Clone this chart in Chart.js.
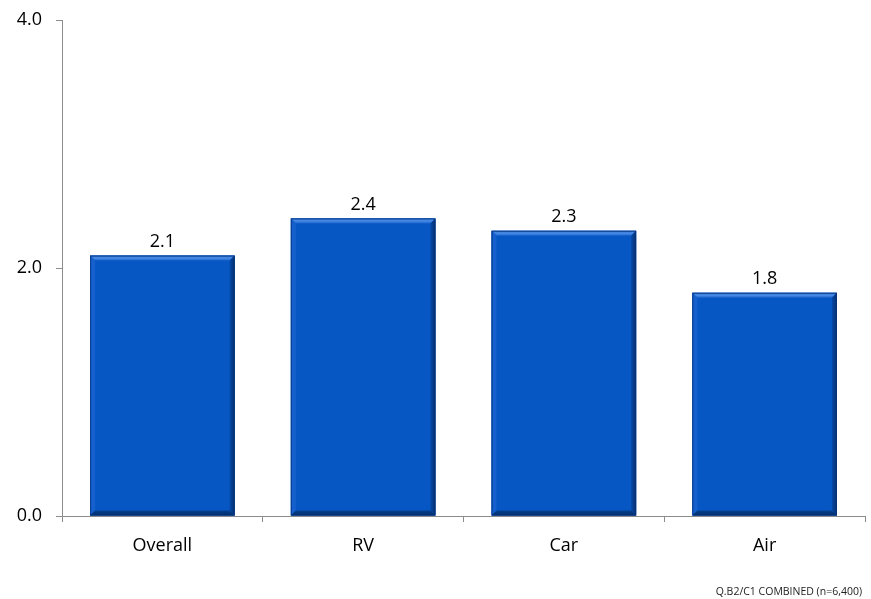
<!DOCTYPE html>
<html>
<head>
<meta charset="utf-8">
<script src="https://cdn.jsdelivr.net/npm/chart.js@4/dist/chart.umd.min.js"></script>
<style>
  html, body { margin: 0; padding: 0; background: #fff; }
  #wrap { position: relative; width: 871px; height: 599px; }
  #note { position: absolute; right: 9px; top: 585px; font-family: "Open Sans", sans-serif; font-size: 10.5px; color: #222; white-space: nowrap; line-height: 12px; }
</style>
</head>
<body>
<div id="wrap">
  <canvas id="c" width="871" height="599"></canvas>
  <div id="note">Q.B2/C1 COMBINED (n=6,400)</div>
</div>
<script>
const categories = ["Overall", "RV", "Car", "Air"];
const values = [2.1, 2.4, 2.3, 1.8];
const yTicks = [0, 2, 4];

const FONT = '"Open Sans", sans-serif';

const bevelPlugin = {
  id: 'bevel',
  afterDatasetsDraw(chart) {
    const ctx = chart.ctx;
    const meta = chart.getDatasetMeta(0);
    meta.data.forEach((bar, i) => {
      const p = bar.getProps(['x', 'y', 'base', 'width'], true);
      const l = p.x - p.width / 2, r = p.x + p.width / 2, t = p.y, b = p.base;
      const d = 5;
      ctx.save();
      ctx.fillStyle = '#0656C4';
      ctx.fillRect(l, t, r - l, b - t);
      const gt = ctx.createLinearGradient(0, t, 0, t + d);
      gt.addColorStop(0, '#2A70D8'); gt.addColorStop(0.5, '#4A8CE6'); gt.addColorStop(1, '#1A62CC');
      ctx.fillStyle = gt;
      ctx.beginPath(); ctx.moveTo(l, t); ctx.lineTo(r, t); ctx.lineTo(r - d, t + d); ctx.lineTo(l + d, t + d); ctx.closePath(); ctx.fill();
      ctx.fillStyle = '#1560CC';
      ctx.beginPath(); ctx.moveTo(l, t); ctx.lineTo(l + d, t + d); ctx.lineTo(l + d, b - d); ctx.lineTo(l, b); ctx.closePath(); ctx.fill();
      const gr = ctx.createLinearGradient(r - d, 0, r, 0);
      gr.addColorStop(0, '#064AA8'); gr.addColorStop(1, '#062F6E');
      ctx.fillStyle = gr;
      ctx.beginPath(); ctx.moveTo(r, t); ctx.lineTo(r, b); ctx.lineTo(r - d, b - d); ctx.lineTo(r - d, t + d); ctx.closePath(); ctx.fill();
      const gb = ctx.createLinearGradient(0, b - d, 0, b);
      gb.addColorStop(0, '#05418F'); gb.addColorStop(1, '#042C66');
      ctx.fillStyle = gb;
      ctx.beginPath(); ctx.moveTo(l, b); ctx.lineTo(r, b); ctx.lineTo(r - d, b - d); ctx.lineTo(l + d, b - d); ctx.closePath(); ctx.fill();
      ctx.strokeStyle = 'rgba(8,50,120,0.8)';
      ctx.lineWidth = 1;
      ctx.strokeRect(l + 0.5, t + 0.5, r - l - 1, b - t - 1);
      ctx.fillStyle = '#000';
      ctx.font = '18px ' + FONT;
      ctx.textAlign = 'center';
      ctx.textBaseline = 'bottom';
      ctx.fillText(values[i].toFixed(1), p.x, t - 5);
      ctx.restore();
    });
  }
};

new Chart(document.getElementById('c'), {
  type: 'bar',
  data: {
    labels: categories,
    datasets: [{
      data: values,
      backgroundColor: '#0656C4',
      borderWidth: 0,
      barPercentage: 0.72,
      categoryPercentage: 1.0
    }]
  },
  options: {
    responsive: false,
    animation: false,
    events: [],
    layout: { padding: { top: 20, right: 6, left: 0, bottom: 0 } },
    plugins: { legend: { display: false }, tooltip: { enabled: false } },
    scales: {
      x: {
        afterFit(s) { s.height = 83; s.paddingLeft = 0; s.paddingRight = 0; },
        grid: { display: true, drawOnChartArea: false, drawTicks: true, tickLength: 6, color: '#8c8c8c', offset: true },
        border: { display: true, color: '#8c8c8c', width: 1 },
        ticks: { color: '#000', padding: 13, font: { family: FONT, size: 18 } }
      },
      y: {
        min: 0, max: 4,
        afterFit(s) { s.width = 62; s.paddingTop = 0; s.paddingBottom = 0; },
        afterBuildTicks(s) { s.ticks = yTicks.map(v => ({ value: v })); },
        grid: { display: true, drawOnChartArea: false, drawTicks: true, tickLength: 6, color: '#8c8c8c' },
        border: { display: true, color: '#8c8c8c', width: 1 },
        ticks: { color: '#000', padding: 14, font: { family: FONT, size: 18 }, callback: v => v.toFixed(1) }
      }
    }
  },
  plugins: [bevelPlugin]
});
</script>
</body>
</html>
